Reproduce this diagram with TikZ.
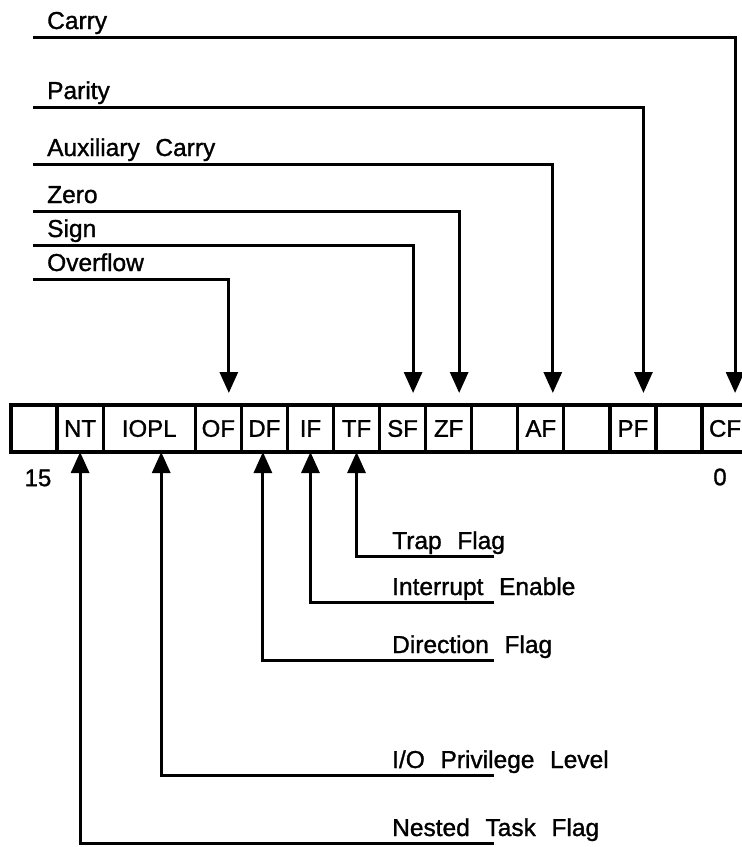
\documentclass[tikz,border=0pt]{standalone}
\usepackage{fontspec}
\setmainfont[WordSpace=2.3, FakeBold=1.2]{Liberation Sans}
\usepackage{tikz}
\usetikzlibrary{positioning, calc, arrows.meta}

\begin{document}
\begin{tikzpicture}[
    x=1pt, y=-1pt,
    cell/.style={draw, line width=3.2pt, outer sep=0pt, inner sep=0pt,
      minimum height=47pt, font=\fontsize{24}{28}\selectfont},
    flagarrow/.style={-{Triangle[length=21pt,width=18pt]}, line width=3pt},
    flagtext/.style={anchor=base west, inner sep=0pt, font=\fontsize{24.5}{28}\selectfont},
    bitnum/.style={font=\fontsize{24}{28}\selectfont},
  ]
    % Page
    \clip (0,0) rectangle (742,847);

    % Register cells
    \foreach \name/\txt/\s/\w in {b15/{}/0/1, nt/NT/1/1, iopl/IOPL/2/2, of/OF/4/1,
        df/DF/5/1, if/IF/6/1, tf/TF/7/1, sf/SF/8/1, zf/ZF/9/1, b5/{}/10/1,
        af/AF/11/1, b3/{}/12/1, pf/PF/13/1, b1/{}/14/1, cf/CF/15/1} {
      \node[cell, anchor=west, minimum width=\w*46.07pt] (\name) at ({11+\s*46.07},428.5) {\txt};
    }

    % Bit numbers
    \node[bitnum] (msb) at (38,478) {15};
    \node[bitnum] (lsb) at (720,477) {0};

    % Status flags
    \foreach \name/\txt/\ly/\cell/\dx in {carry/Carry/37/cf/10, parity/Parity/107/pf/10.5,
        auxc/{Auxiliary Carry}/164/af/12, zero/Zero/211/zf/10.5, sign/Sign/245/sf/10.5,
        ovfl/Overflow/279/of/10.5} {
      \coordinate (\name-start) at (33,\ly);
      \node[flagtext] (\name) at ({47},{\ly-8}) {\txt};
      \draw[flagarrow] (\name-start) -| ([xshift=\dx pt,yshift=12pt]\cell.north);
    }

    % Control flags
    \foreach \name/\txt/\ly/\cell/\dx in {trap/{Trap Flag}/556/tf/0, intr/{Interrupt Enable}/602/if/0,
        dirn/{Direction Flag}/660/df/-1.5, priv/{I/O Privilege Level}/775/iopl/12,
        nest/{Nested Task Flag}/843/nt/0} {
      \coordinate (\name-end) at (494,\ly);
      \node[flagtext] (\name) at ({392},{\ly-7}) {\txt};
      \draw[flagarrow] (\name-end) -| ([xshift=\dx pt]\cell.south);
    }
  \end{tikzpicture}
\end{document}
